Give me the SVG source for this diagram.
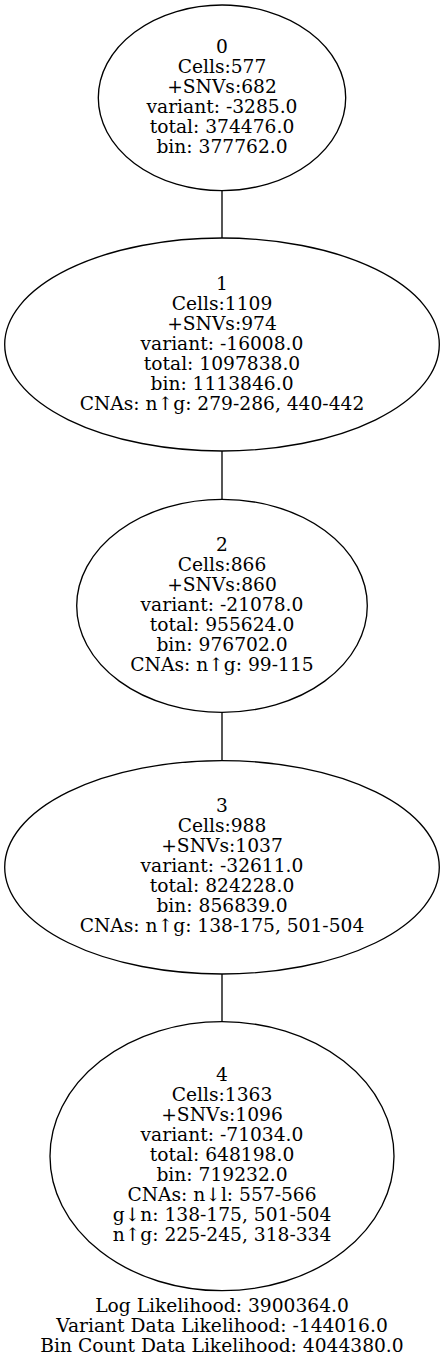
<svg xmlns="http://www.w3.org/2000/svg" width="444" height="1362" viewBox="0 0 444 1362">
<style>
  .node ellipse { fill: none; stroke: #000; stroke-width: 1.33; }
  .edges line { stroke: #000; stroke-width: 1.33; }
  text { font-family: "DejaVu Serif", "Liberation Serif", serif; font-size: 18.67px; fill: #000; text-anchor: middle; }
</style>
<rect width="444" height="1362" fill="#fff"/>
<g id="connectors" class="edges">
  <line x1="222" y1="190.7" x2="222" y2="238"/>
  <line x1="222" y1="451" x2="222" y2="499.3"/>
  <line x1="222" y1="712.3" x2="222" y2="760.7"/>
  <line x1="222" y1="974" x2="222" y2="1021.7"/>
</g>
<g id="node0" class="node">
  <ellipse cx="222" cy="97.8" rx="123.7" ry="92.8"/>
  <text x="222" y="52.8">0</text>
  <text x="222" y="72.8">Cells:577</text>
  <text x="222" y="92.8">+SNVs:682</text>
  <text x="222" y="112.8">variant: -3285.0</text>
  <text x="222" y="132.8">total: 374476.0</text>
  <text x="222" y="152.8">bin: 377762.0</text>
</g>
<g id="node1" class="node">
  <ellipse cx="222" cy="344.5" rx="217.3" ry="106.5"/>
  <text x="222" y="289.5">1</text>
  <text x="222" y="309.5">Cells:1109</text>
  <text x="222" y="329.5">+SNVs:974</text>
  <text x="222" y="349.5">variant: -16008.0</text>
  <text x="222" y="369.5">total: 1097838.0</text>
  <text x="222" y="389.5">bin: 1113846.0</text>
  <text x="222" y="409.5">CNAs: n↑g: 279-286, 440-442</text>
</g>
<g id="node2" class="node">
  <ellipse cx="222" cy="605.8" rx="145.3" ry="106.5"/>
  <text x="222" y="550.8">2</text>
  <text x="222" y="570.8">Cells:866</text>
  <text x="222" y="590.8">+SNVs:860</text>
  <text x="222" y="610.8">variant: -21078.0</text>
  <text x="222" y="630.8">total: 955624.0</text>
  <text x="222" y="650.8">bin: 976702.0</text>
  <text x="222" y="670.8">CNAs: n↑g: 99-115</text>
</g>
<g id="node3" class="node">
  <ellipse cx="222" cy="867.3" rx="217.3" ry="106.7"/>
  <text x="222" y="812.3">3</text>
  <text x="222" y="832.3">Cells:988</text>
  <text x="222" y="852.3">+SNVs:1037</text>
  <text x="222" y="872.3">variant: -32611.0</text>
  <text x="222" y="892.3">total: 824228.0</text>
  <text x="222" y="912.3">bin: 856839.0</text>
  <text x="222" y="932.3">CNAs: n↑g: 138-175, 501-504</text>
</g>
<g id="node4" class="node">
  <ellipse cx="222" cy="1156.2" rx="172" ry="134.5"/>
  <text x="222" y="1081.2">4</text>
  <text x="222" y="1101.2">Cells:1363</text>
  <text x="222" y="1121.2">+SNVs:1096</text>
  <text x="222" y="1141.2">variant: -71034.0</text>
  <text x="222" y="1161.2">total: 648198.0</text>
  <text x="222" y="1181.2">bin: 719232.0</text>
  <text x="222" y="1201.2">CNAs: n↓l: 557-566</text>
  <text x="222" y="1221.2">g↓n: 138-175, 501-504</text>
  <text x="222" y="1241.2">n↑g: 225-245, 318-334</text>
</g>
<g id="graph-label">
  <text x="222" y="1311.5">Log Likelihood: 3900364.0</text>
  <text x="222" y="1331.5">Variant Data Likelihood: -144016.0</text>
  <text x="222" y="1351.5">Bin Count Data Likelihood: 4044380.0</text>
</g>
</svg>
